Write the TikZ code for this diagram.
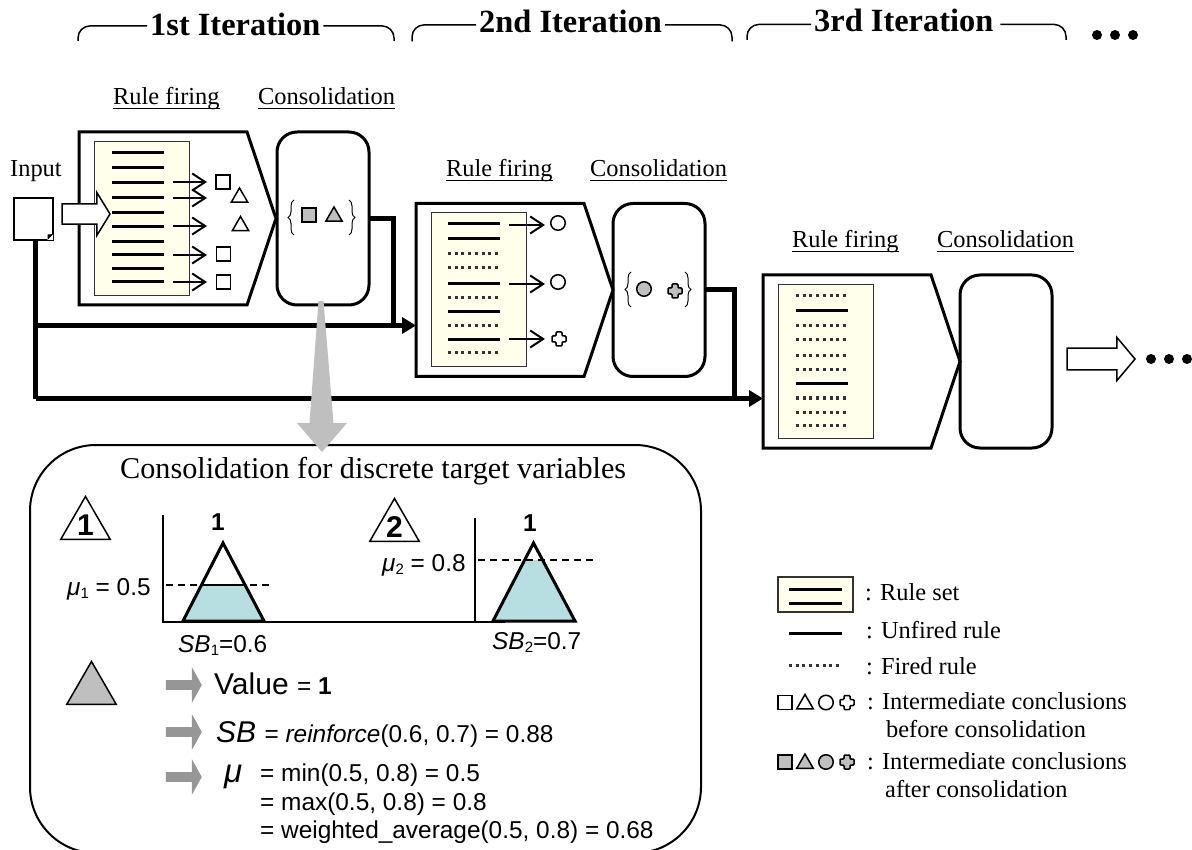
\documentclass[tikz,border=0pt]{standalone}
\usepackage{fontspec}
\usepackage{tikz}
\usetikzlibrary{shapes,shapes.geometric,shapes.symbols,shapes.arrows,arrows.meta,positioning,calc,decorations.pathreplacing}
\setmainfont{Liberation Serif}
\setsansfont{Liberation Sans}
\definecolor{ruleyellow}{HTML}{FFFFEC}
\definecolor{markgrey}{HTML}{BFBFBF}
\definecolor{arrowgrey}{HTML}{969696}
\definecolor{levelblue}{HTML}{B7DEE1}
\newcommand{\subnum}[1]{\raisebox{-3pt}{\fontsize{15}{15}\selectfont #1}}

\begin{document}
\begin{tikzpicture}[
    x=1pt, y=-1pt,
    firebox/.style={signal, signal to=east, signal from=nowhere, signal pointer angle=143, draw, line width=3pt, outer sep=0pt, inner sep=0pt, minimum width=197pt, minimum height=173pt, anchor=east},
    consbox/.style={rectangle, rounded corners=20pt, draw, line width=3pt, outer sep=0pt, minimum width=92pt, minimum height=173pt},
    rulebox/.style={rectangle, draw=black!80, fill=ruleyellow, line width=1pt, outer sep=0pt, minimum width=95pt, minimum height=154pt},
    rulesolid/.style={line width=3pt},
    rulefired/.style={line width=3pt, black!80, dash pattern=on 3pt off 3.7pt},
    firearrow/.style={-{Straight Barb[length=13pt,width=17pt]}, line width=2pt},
    mainline/.style={line width=5pt},
    mainarrow/.style={mainline, -{Triangle[length=14pt,width=16pt]}},
    openarrow/.style={single arrow, draw, fill=white, line width=1.5pt, outer sep=0pt, anchor=tip},
    greyarrow/.style={single arrow, fill=arrowgrey, anchor=tip, minimum height=36pt, minimum width=36pt, single arrow head extend=9.5pt, single arrow tip angle=122},
    squaremark/.style={rectangle, draw, line width=1.5pt, fill=white, minimum size=14pt, inner sep=0pt, outer sep=0pt},
    trimark/.style={regular polygon, regular polygon sides=3, draw, line width=1.5pt, fill=white, minimum size=19pt, inner sep=0pt, outer sep=0pt},
    circmark/.style={circle, draw, line width=1.5pt, fill=white, minimum size=14.5pt, inner sep=0pt, outer sep=0pt},
    setbrace/.style={decorate, decoration={brace, amplitude=6pt}, line width=1pt},
    steptri/.style={regular polygon, regular polygon sides=3, draw, line width=1.5pt, minimum size=57pt, inner sep=0pt, outer sep=0pt},
    itertitle/.style={font=\fontsize{32.4}{36}\selectfont\bfseries, anchor=base west, inner sep=3pt},
    iterline/.style={line width=1.5pt, rounded corners=12pt},
    headline/.style={line width=1.5pt},
    serifl/.style={font=\fontsize{24.4}{28}\selectfont, anchor=base west, inner sep=0pt},
    sansl/.style={font=\sffamily\fontsize{24.4}{28}\selectfont, anchor=base west, inner sep=0pt},
    sansbig/.style={font=\sffamily\fontsize{30}{34}\selectfont, anchor=base west, inner sep=0pt},
    moredot/.style={circle, fill, minimum size=10pt, inner sep=0pt},
    pics/plusmark/.style={code={
        \path[pic actions, rounded corners=1pt] (-3,-7) -- (3,-7) -- (3,-3) -- (7,-3) -- (7,3) -- (3,3) -- (3,7) -- (-3,7) -- (-3,3) -- (-7,3) -- (-7,-3) -- (-3,-3) -- cycle;
    }}
]
    \useasboundingbox (0,0) rectangle (1192,850);

    % Iteration titles
    \node[itertitle] (iter1) at (147,36) {1st Iteration};
    \node[itertitle] (iter2) at (476,33) {2nd Iteration};
    \node[itertitle] (iter3) at (811,32) {3rd Iteration};
    \coordinate (iter1l) at (78,41);
    \coordinate (iter1r) at (394,41);
    \coordinate (iter2l) at (412,41.5);
    \coordinate (iter2r) at (732,41.5);
    \coordinate (iter3l) at (747,40);
    \coordinate (iter3r) at (1066,40);
    \draw[iterline] ([yshift=-1pt]iter1.west) -| (iter1l);
    \draw[iterline] ([yshift=-1pt]iter1.east) -| (iter1r);
    \draw[iterline] ([yshift=-3pt]iter2.west) -| (iter2l);
    \draw[iterline] ([yshift=-3pt]iter2.east) -| (iter2r);
    \draw[iterline] ([yshift=-3.5pt]iter3.west) -| (iter3l);
    \draw[iterline] ([xshift=4pt,yshift=-3.5pt]iter3.east) -| (iter3r);
    \foreach \x in {1097,1115,1133}
        \node[moredot] (titledot\x) at (\x,35) {};

    % Step headings
    \foreach \n/\xa/\xb/\y in {1/113/258/105, 2/446/590/177, 3/792/937/248} {
        \node[serifl] (firehead\n) at (\xa,\y) {Rule firing};
        \node[serifl] (conshead\n) at (\xb,\y) {Consolidation};
        \draw[headline] ([yshift=-3.5pt]firehead\n.base west) -- ([yshift=-3.5pt]firehead\n.base east);
        \draw[headline] ([yshift=-3.5pt]conshead\n.base west) -- ([yshift=-3.5pt]conshead\n.base east);
    }

    % Input
    \node[serifl] (input) at (10,177) {Input};
    \node[rectangle, draw, line width=1.5pt, outer sep=0pt, minimum width=39pt, minimum height=42pt] (doc) at (33.5,219) {};
    \fill[white] (doc.south east) -- ++(-6,0) -- ++(6,-6) -- cycle;
    \fill (47.5,240) -- (53.5,234) -- (47.5,234.5) -- cycle;

    % Main lines
    \coordinate (in2) at (416,325.5);
    \coordinate (in3) at (763,398.5);
    \coordinate (join1) at (393,325.5);
    \coordinate (join2) at (734,398.5);
    \draw[mainline] ([xshift=2pt]doc.south) -- ([xshift=2pt]doc.south |- in3);
    \draw[mainarrow] ([xshift=2pt]doc.south |- in2) -- (in2);
    \draw[mainarrow] ([xshift=2pt]doc.south |- in3) -- (in3);

    % First iteration
    \node[firebox] (fire1) at (276,218.5) {};
    \node[consbox, right=1pt of fire1] (cons1) {};
    \node[rulebox] (set1) at (141.5,219) {};
    \foreach \y in {153,168,183,198,213,227,242,255,269,282}
        \draw[rulesolid] (112,\y) -- (164,\y);
    \node[openarrow, minimum height=48pt, minimum width=43pt, single arrow head extend=4.5pt, single arrow tip angle=117] (inarrow) at (110,214) {};
    \foreach \n/\y in {a/182,b/198,c/226,d/255,e/282} {
        \coordinate (rs1\n) at (173,\y);
        \coordinate (rt1\n) at (207,\y);
        \draw[firearrow] (rs1\n) -- (rt1\n);
    }
    \node[squaremark] (m1a) at (223,182) {};
    \node[trimark] (m1b) at (239.5,197.5) {};
    \node[trimark] (m1c) at (240.5,226) {};
    \node[squaremark] (m1d) at (223.5,254) {};
    \node[squaremark] (m1e) at (223.5,282) {};
    \draw[setbrace] (294,235) -- (294,200);
    \draw[setbrace] (349,200) -- (349,235);
    \node[squaremark, fill=markgrey] (c1a) at (309,215) {};
    \node[trimark, fill=markgrey] (c1b) at (334,216.5) {};
    \draw[mainline] (cons1.east) -| (join1);

    % Second iteration
    \node[firebox] (fire2) at (613,290) {};
    \node[consbox, right=0pt of fire2] (cons2) {};
    \node[rulebox] (set2) at (478.5,290) {};
    \foreach \y in {224,239,284,312,340}
        \draw[rulesolid] (448,\y) -- (500,\y);
    \foreach \y in {254,268,298,326,353}
        \draw[rulefired] (448,\y) -- (500,\y);
    \foreach \n/\y in {a/225,b/284,c/339} {
        \coordinate (rs2\n) at (509,\y);
        \coordinate (rt2\n) at (545,\y);
        \draw[firearrow] (rs2\n) -- (rt2\n);
    }
    \node[circmark] (m2a) at (558,223) {};
    \node[circmark] (m2b) at (558,282) {};
    \pic[draw, fill=white, line width=1.5pt] (m2c) at (559,339) {plusmark};
    \draw[setbrace] (631,307) -- (631,272);
    \draw[setbrace] (685,272) -- (685,307);
    \node[circmark, fill=markgrey] (c2a) at (644,289) {};
    \pic[draw, fill=markgrey, line width=1.5pt] (c2b) at (675,291) {plusmark};
    \draw[mainline] (cons2.east) -| (join2);

    % Third iteration
    \node[firebox] (fire3) at (960,361.5) {};
    \node[consbox, right=0pt of fire3] (cons3) {};
    \node[rulebox] (set3) at (825.5,361.5) {};
    \foreach \y in {311,384}
        \draw[rulesolid] (796,\y) -- (848,\y);
    \foreach \y in {296,326,340,356,370,398,412,425}
        \draw[rulefired] (796,\y) -- (848,\y);
    \node[openarrow, minimum height=68pt, minimum width=43pt, single arrow head extend=4pt, single arrow tip angle=100] (outarrow) at (1135,359) {};
    \foreach \x in {1151,1169,1187}
        \node[moredot] (outdot\x) at (\x,359) {};

    % Detail box
    \draw[line width=2pt, rounded corners=66pt] (30,445) rectangle (701,853);
    \fill[markgrey] (318.5,301) -- (323.5,301) -- (333.5,423) -- (347,423) -- (322,452) -- (297,423) -- (309.5,423) -- cycle;
    \node[serifl, font=\fontsize{30.2}{34}\selectfont] (detailtitle) at (120,478) {Consolidation for discrete target variables};

    % Membership of target 1
    \node[steptri, label={[font=\sffamily\bfseries\fontsize{30}{34}\selectfont]center:1}] (step1) at (85.5,525) {};
    \draw[line width=1.5pt] (163,515) -- (163,622) -- (505,622);
    \fill[levelblue] (201.5,585) -- (245,585) -- (264,621) -- (183,621) -- cycle;
    \draw[line width=1.5pt, dashed, dash pattern=on 7pt off 5pt] (166,585) -- (270,585);
    \draw[line width=1.5pt] (201.5,585) -- (245,585);
    \draw[line width=3pt] (183,621) -- (223,543) -- (264,621) -- cycle;
    \node[sansl, font=\sffamily\bfseries\fontsize{24.4}{28}\selectfont] (peak1) at (211,530) {1};
    \node[sansl] (mu1) at (67,595) {\textit{μ}\subnum{1} = 0.5};
    \node[sansl] (sb1) at (178,652) {\textit{SB}\subnum{1}=0.6};

    % Membership of target 2
    \node[steptri, label={[font=\sffamily\bfseries\fontsize{30}{34}\selectfont]center:2}] (step2) at (394.5,527) {};
    \draw[line width=1.5pt] (475,518) -- (475,622);
    \fill[levelblue] (524.7,560) -- (542.5,560) -- (575,621) -- (493,621) -- cycle;
    \draw[line width=1.5pt, dashed, dash pattern=on 7pt off 5pt] (478,560) -- (595,560);
    \draw[line width=3pt] (493,621) -- (533.5,543) -- (575,621) -- cycle;
    \node[sansl, font=\sffamily\bfseries\fontsize{24.4}{28}\selectfont] (peak2) at (523,531) {1};
    \node[sansl] (mu2) at (382,571) {\textit{μ}\subnum{2} = 0.8};
    \node[sansl] (sb2) at (492,649) {\textit{SB}\subnum{2}=0.7};

    % Results
    \node[steptri, fill=markgrey] (result) at (91.5,690) {};
    \node[greyarrow] (res1) at (202,685) {};
    \node[greyarrow] (res2) at (202,732) {};
    \node[greyarrow] (res3) at (202,777) {};
    \node[sansbig] (resvalue) at (214,694) {Value {\fontsize{24.4}{28}\selectfont = \textbf{1}}};
    \node[sansbig] (ressb) at (216,742) {\textit{SB} {\fontsize{24.4}{28}\selectfont = \textit{reinforce}(0.6, 0.7) = 0.88}};
    \node[sansl, font=\sffamily\fontsize{33}{36}\selectfont] (resmu) at (224,782) {\textit{μ}};
    \node[sansl] (resmin) at (260,781) {= min(0.5, 0.8) = 0.5};
    \node[sansl] (resmax) at (260,810) {= max(0.5, 0.8) = 0.8};
    \node[sansl] (reswgt) at (260,838) {= weighted\_average(0.5, 0.8) = 0.68};

    % Legend
    \node[rulebox, minimum width=75pt, minimum height=35pt, line width=1.5pt] (legset) at (815.5,594.5) {};
    \draw[rulesolid] (789,589) -- (842,589);
    \draw[rulesolid] (789,603) -- (842,603);
    \draw[rulesolid] (789,633) -- (842,633);
    \draw[rulefired] (789,665) -- (842,665);
    \node[serifl] (legtxta) at (865,600) {: Rule set};
    \node[serifl] (legtxtb) at (866,638) {: Unfired rule};
    \node[serifl] (legtxtc) at (866,674) {: Fired rule};
    \foreach \n/\y/\c in {a/702.5/white,b/762/markgrey} {
        \node[squaremark, fill=\c] (leg\n s) at (785,\y) {};
        \node[trimark, fill=\c] (leg\n t) at (805,\y+1.5) {};
        \node[circmark, fill=\c] (leg\n c) at (826,\y) {};
        \pic[draw, fill=\c, line width=1.5pt] (leg\n p) at (847,\y) {plusmark};
    }
    \node[serifl] (legtxtd) at (867,709) {: Intermediate conclusions};
    \node[serifl] (legtxte) at (886,737) {before consolidation};
    \node[serifl] (legtxtf) at (867,769) {: Intermediate conclusions};
    \node[serifl] (legtxtg) at (885,797) {after consolidation};
\end{tikzpicture}
\end{document}
